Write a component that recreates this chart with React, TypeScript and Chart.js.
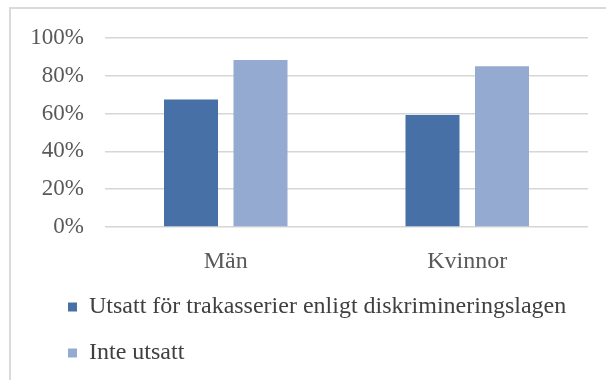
import React, { useEffect, useRef } from "react";
import { Chart, registerables } from "chart.js";

Chart.register(...registerables);

const categories = ["Män", "Kvinnor"];
const seriesNames = [
  "Utsatt för trakasserier enligt diskrimineringslagen",
  "Inte utsatt",
];
const exposedValues = [67.5, 59.2];
const notExposedValues = [88.3, 85.0];
const yTicks = [0, 20, 40, 60, 80, 100];

const FONT = "'Liberation Serif', 'Times New Roman', serif";

const legendShift = {
  id: "legendShift",
  afterLayout(chart: any) {
    if (chart.legend) {
      chart.legend.left += 26;
      chart.legend.right += 26;
    }
  },
};

export default function App() {
  const ref = useRef<HTMLCanvasElement | null>(null);

  useEffect(() => {
    if (!ref.current) return;
    const chart = new Chart(ref.current, {
      type: "bar",
      data: {
        labels: categories,
        datasets: [
          {
            label: seriesNames[0],
            data: exposedValues,
            backgroundColor: "#4770a7",
            borderWidth: 0,
            categoryPercentage: 0.5756,
            barPercentage: 0.777,
          },
          {
            label: seriesNames[1],
            data: notExposedValues,
            backgroundColor: "#94aad0",
            borderWidth: 0,
            categoryPercentage: 0.5756,
            barPercentage: 0.777,
          },
        ],
      },
      plugins: [legendShift],
      options: {
        responsive: false,
        animation: false,
        layout: { padding: { left: 20, right: 18, top: 38, bottom: 5 } },
        plugins: {
          tooltip: { enabled: false },
          legend: {
            position: "bottom",
            align: "start",
            labels: {
              boxWidth: 9,
              boxHeight: 9,
              padding: 22,
              color: "#404040",
              font: { family: FONT, size: 24 },
            },
          },
        },
        scales: {
          x: {
            grid: { display: false },
            border: { display: false },
            ticks: {
              padding: 12,
              color: "#595959",
              font: { family: FONT, size: 24 },
            },
            afterFit: (scale: any) => {
              scale.height = 46;
            },
          },
          y: {
            min: 0,
            max: 100,
            afterBuildTicks: (scale: any) => {
              scale.ticks = yTicks.map((v) => ({ value: v }));
            },
            grid: { color: "#d6d6d6", lineWidth: 1.6, drawTicks: false },
            border: { display: false },
            ticks: {
              padding: 21,
              color: "#595959",
              font: { family: FONT, size: 23 },
              callback: (v: any) => `${v}%`,
            },
            afterFit: (scale: any) => {
              scale.width = 85;
            },
          },
        },
      },
    });
    return () => chart.destroy();
  }, []);

  return (
    <div
      style={{
        position: "fixed",
        left: 0,
        top: 0,
        width: 606,
        height: 380,
        background: "#fff",
      }}
    >
      <div
        style={{
          position: "absolute",
          left: 9,
          top: 7,
          right: 0,
          bottom: 0,
          borderLeft: "2px solid #dadada",
          borderTop: "2px solid #dadada",
        }}
      />
      <canvas
        ref={ref}
        width={606}
        height={380}
        style={{ position: "absolute", left: 0, top: 0 }}
      />
    </div>
  );
}
